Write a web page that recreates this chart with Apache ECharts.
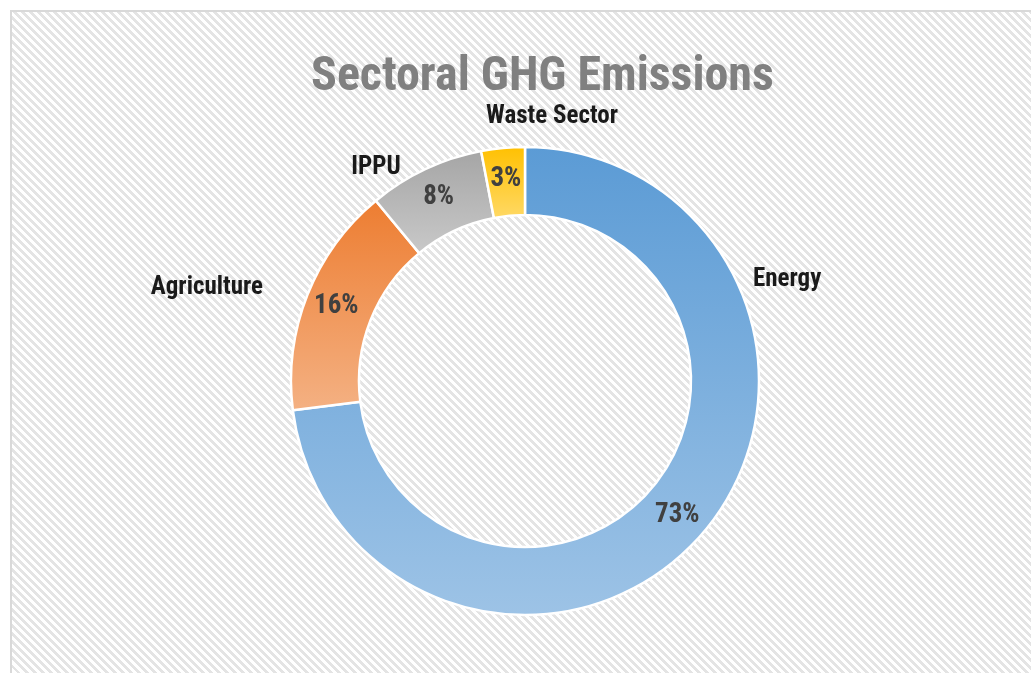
<!DOCTYPE html>
<html>
<head>
<meta charset="utf-8">
<script src="https://cdn.jsdelivr.net/npm/echarts@6/dist/echarts.min.js"></script>
<style>
  html, body { margin: 0; padding: 0; background: #fff; width: 1031px; height: 673px; overflow: hidden; }
  #frame {
    position: absolute; left: 10px; top: 10px; width: 1100px; height: 720px;
    border-left: 2px solid #d9d9d9; border-top: 2px solid #d9d9d9;
    background: repeating-linear-gradient(45deg, #e4e4e4 0px, #e4e4e4 2.8px, #ffffff 2.8px, #ffffff 5.66px);
  }
  #chart { position: absolute; left: 0; top: 0; width: 1031px; height: 673px; }
</style>
</head>
<body>
<div id="frame"></div>
<div id="chart"></div>
<script>
// ---- data ----
const categories = ['Energy', 'Agriculture', 'IPPU', 'Waste Sector'];
const shares = [73, 16, 8, 3];
const titleText = 'Sectoral GHG Emissions';

// ---- styling / layout ----
const gradTop = ['#5b9bd5', '#ed7d31', '#a5a5a5', '#ffc000'];
const gradBottom = ['#9dc3e6', '#f4b183', '#c9c9c9', '#ffd966'];
const CX = 525, CY = 381;
const nameLabelOffset = [ // offsets from pie centre, align
  [228, -101, 'left'],
  [-262, -93, 'right'],
  [-149, -213, 'center'],
  [27, -264, 'center']
];
const FONT = "'Roboto Condensed', 'Arial Narrow', Roboto, sans-serif";

const pieData = categories.map((c, i) => ({
  name: c,
  value: shares[i],
  itemStyle: {
    color: {
      type: 'linear', x: 0, y: 0, x2: 0, y2: 1,
      colorStops: [{ offset: 0, color: gradTop[i] }, { offset: 1, color: gradBottom[i] }]
    }
  }
}));

const chart = echarts.init(document.getElementById('chart'), null, { renderer: 'canvas' });
chart.setOption({
  animation: false,
  title: {
    text: titleText,
    left: 306, top: 49,
    textStyle: { fontFamily: FONT, fontWeight: 'bold', fontSize: 48, color: '#808080' }
  },
  series: [
    {
      type: 'pie',
      center: [CX, CY],
      radius: [166, 234],
      startAngle: 90,
      clockwise: true,
      silent: true,
      itemStyle: { borderColor: '#ffffff', borderWidth: 2.5 },
      label: {
        show: true, position: 'inside',
        formatter: '{d}%',
        fontFamily: FONT, fontWeight: 'bold', fontSize: 27, color: '#404040'
      },
      labelLine: { show: false },
      emphasis: { disabled: true },
      data: pieData
    },
    {
      type: 'pie',
      center: [CX, CY],
      radius: [166, 234],
      startAngle: 90,
      clockwise: true,
      silent: true,
      z: 1,
      itemStyle: { color: 'rgba(0,0,0,0)', borderWidth: 0 },
      label: {
        show: true, position: 'outside',
        formatter: '{b}',
        fontFamily: FONT, fontWeight: 'bold', fontSize: 25, color: '#1a1a1a'
      },
      labelLine: { show: false },
      labelLayout: function (p) {
        const o = nameLabelOffset[p.dataIndex];
        return { x: CX + o[0], y: CY + o[1], align: o[2], verticalAlign: 'middle' };
      },
      emphasis: { disabled: true },
      data: categories.map((c, i) => ({ name: c, value: shares[i] }))
    }
  ]
});
</script>
</body>
</html>
